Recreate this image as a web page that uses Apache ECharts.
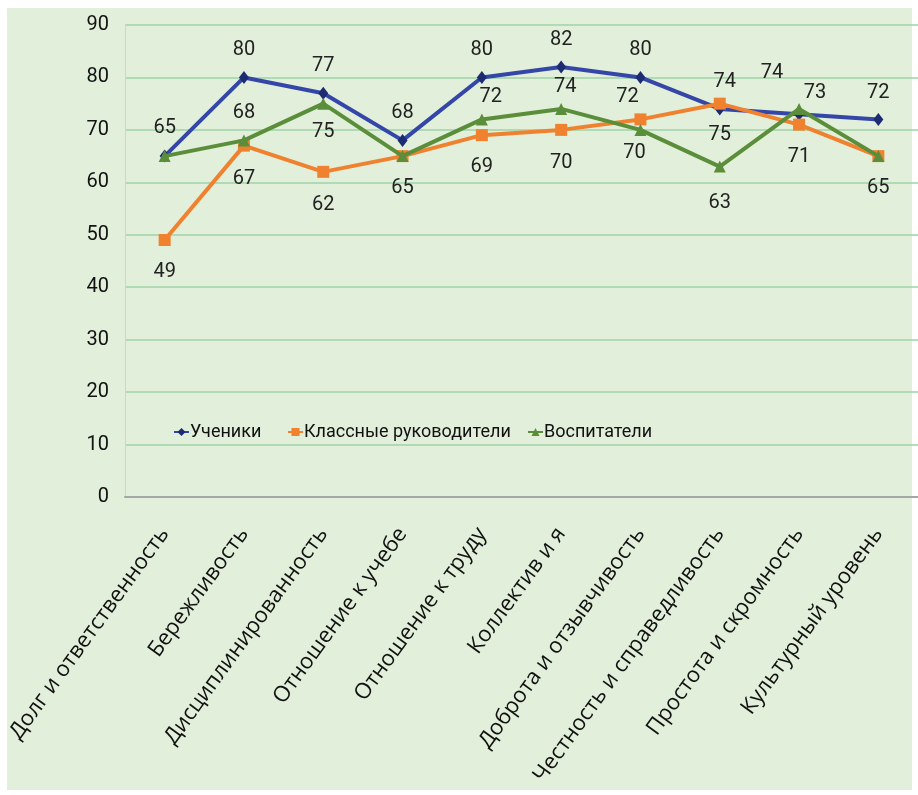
<!DOCTYPE html>
<html><head><meta charset="utf-8">
<script src="https://cdn.jsdelivr.net/npm/echarts@6/dist/echarts.min.js"></script>
<style>
html,body{margin:0;padding:0;background:#fff;width:918px;height:795px;overflow:hidden;}
#bg{position:absolute;left:7px;top:8px;width:905px;height:782px;background:#e2efda;}
#chart{position:absolute;left:0;top:0;width:918px;height:795px;}
</style></head>
<body><div id="bg"></div><div id="chart"></div>
<script>
const categories = ['Долг и ответственность','Бережливость','Дисциплинированность','Отношение к учебе','Отношение к труду','Коллектив и я','Доброта и отзывчивость','Честность и справедливость','Простота и скромность','Культурный уровень'];
const seriesNames = ['Ученики','Классные руководители','Воспитатели'];
const pupils   = [65, 80, 77, 68, 80, 82, 80, 74, 73, 72];
const teachers = [49, 67, 62, 65, 69, 70, 72, 75, 71, 65];
const tutors   = [65, 68, 75, 65, 72, 74, 70, 63, 74, 65];
const yTicks = [0,10,20,30,40,50,60,70,80,90];

// label offsets (style only): [dx, dy] from the point, null = no label
const pupilsLbl   = [[0,-28],[0,-27],[0,-27],[0,-27],[0,-27],[0,-27],[0,-27],[5,-27],[16,-21],[0,-26]];
const teachersLbl = [[0,32],[0,33],[0,33],[0,32],[0,32],[0,33],[-13,-22],[0,31],[0,32],[0,32]];
const tutorsLbl   = [null,[0,-27],[0,28],null,[9,-22],[4,-22],[-6,23],[0,36],[-27,-36],null];
// legend item left edges (style only)
const legendLefts = [168, 282, 522];

const FONT = '"Roboto", "Liberation Sans", sans-serif';
const colors = ['#3446a8','#f0822f','#5b8e3b'];

function mk(vals, lbl){
  return vals.map((v,i)=>({value:v, label: lbl[i] ? {show:true, position:'inside', offset:lbl[i]} : {show:false}}));
}
const labelStyle = {color:'#222', fontSize:20, fontFamily:FONT};
const chart = echarts.init(document.getElementById('chart'));
chart.setOption({
  animation:false,
  backgroundColor:'transparent',
  grid:{left:125, right:-3, top:25, bottom:298},
  legend: seriesNames.map((n,i)=>({
    data:[n], left:legendLefts[i], top:418, itemWidth:15, itemHeight:10, itemGap:0,
    textStyle:{fontSize:18, fontFamily:FONT, color:'#111', padding:[0,0,0,-4]}
  })),
  xAxis:{
    type:'category', data:categories, boundaryGap:true,
    axisLine:{lineStyle:{color:'#a6a6a6', width:2}},
    axisTick:{show:false},
    axisLabel:{rotate:54, margin:33, fontSize:22, fontFamily:'"Open Sans",sans-serif', color:'#111', interval:0}
  },
  yAxis:{
    type:'value', min:0, max:90, interval:10,
    axisLine:{show:true, lineStyle:{color:'#c4dcc0', width:1}},
    axisTick:{show:false},
    axisLabel:{fontSize:20, fontFamily:FONT, color:'#111', margin:16, formatter:v=>yTicks.includes(v)?String(v):''},
    splitLine:{lineStyle:{color:'#9fd3a6', width:1.5}}
  },
  series:[
    {name:seriesNames[0], type:'line', data:mk(pupils,pupilsLbl), symbol:'diamond', symbolSize:[10,13],
     lineStyle:{color:colors[0], width:4}, itemStyle:{color:'#1d2b72'}, label:labelStyle, z:2},
    {name:seriesNames[1], type:'line', data:mk(teachers,teachersLbl), symbol:'rect', symbolSize:12,
     lineStyle:{color:colors[1], width:4}, itemStyle:{color:colors[1]}, label:labelStyle, z:3},
    {name:seriesNames[2], type:'line', data:mk(tutors,tutorsLbl), symbol:'triangle', symbolSize:12,
     lineStyle:{color:colors[2], width:4}, itemStyle:{color:colors[2]}, label:labelStyle, z:4}
  ]
});
</script></body></html>
